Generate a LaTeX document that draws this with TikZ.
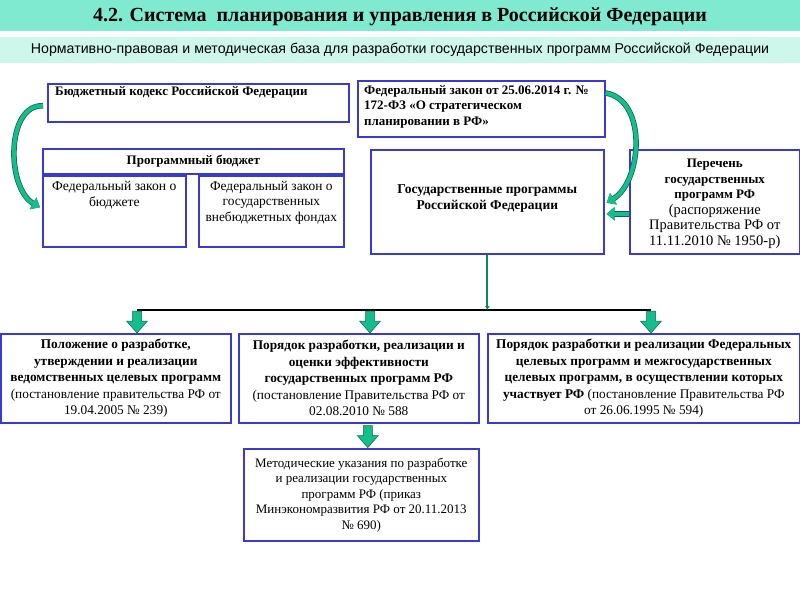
\documentclass[tikz,border=0pt]{standalone}
\usepackage{fontspec}
\setmainfont{Liberation Serif}
\newfontfamily\plainsans{Liberation Sans}
\usetikzlibrary{arrows.meta,calc,positioning}

\definecolor{titleteal}{RGB}{128,234,208}
\definecolor{subteal}{RGB}{206,247,236}
\definecolor{boxblue}{RGB}{58,58,204}
\definecolor{arrowgreen}{RGB}{20,190,140}
\definecolor{arrowdark}{RGB}{25,95,80}

\tikzset{
  docbox/.style={draw=boxblue, line width=1.6pt, anchor=north west, inner sep=0pt},
  boxtext/.style={inner sep=0pt, align=center, font=\fontsize{13.3}{16.5}\selectfont},
  smalltext/.style={inner sep=0pt, align=center, font=\fontsize{13}{15.5}\selectfont},
  bendarrow/.style={draw=arrowgreen, line width=4pt,
    preaction={draw=arrowdark, line width=5.5pt},
    -{Triangle[length=8pt,width=13pt]}},
  pics/blockdown/.style={code={
    \draw[draw=arrowdark, fill=arrowgreen, line width=0.5pt]
      (-4.5,0) -- (4.5,0) -- (4.5,10) -- (10.5,10) -- (0,22) -- (-10.5,10) -- (-4.5,10) -- cycle;}}
}

\begin{document}
\begin{tikzpicture}[x=1pt, y=-1pt]
  \useasboundingbox (0,0) rectangle (800,600);

  % title bands
  \fill[titleteal] (0,0) rectangle (800,31);
  \fill[subteal] (0,37) rectangle (800,63);
  \node[font=\bfseries\fontsize{20}{24}\selectfont] (title) at (400,17)
    {4.2. Система\ \ планирования и управления в Российской Федерации};
  \node[font=\plainsans\fontsize{14.2}{16}\selectfont] (subtitle) at (400,50)
    {Нормативно-правовая и методическая база для разработки государственных программ Российской Федерации};

  % upper row
  \node[docbox, minimum width=301, minimum height=38] (bk) at (47,83) {};
  \node[smalltext, anchor=north west, font=\bfseries\fontsize{13}{15.5}\selectfont] (bktext) at (55,86)
    {Бюджетный кодекс Российской Федерации};

  \node[docbox, minimum width=247, minimum height=56] (fz) at (357,80) {};
  \node[smalltext, anchor=north west, align=left, font=\bfseries\fontsize{13}{15.5}\selectfont] (fztext) at (364,85)
    {Федеральный закон от 25.06.2014 г. №\\172-ФЗ «О стратегическом\\планировании в РФ»};

  \node[docbox, minimum width=301, minimum height=25] (pb) at (42,148) {};
  \node[smalltext, font=\bfseries\fontsize{13}{15.5}\selectfont] (pbtext) at (pb.center)
    {Программный бюджет};

  \node[docbox, minimum width=143, minimum height=71] (fzb) at (42,175) {};
  \node[smalltext, anchor=north, font=\fontsize{13.6}{16}\selectfont] (fzbtext) at ($(fzb.north)+(0,6)$)
    {Федеральный закон о\\бюджете};

  \node[docbox, minimum width=145, minimum height=71] (fzv) at (198,175) {};
  \node[smalltext, anchor=north, font=\fontsize{13.4}{15.5}\selectfont] (fzvtext) at ($(fzv.north)+(0,6)$)
    {Федеральный закон о\\государственных\\внебюджетных фондах};

  \node[docbox, minimum width=233, minimum height=104] (gp) at (370,149) {};
  \node[smalltext, font=\bfseries\fontsize{13.5}{16}\selectfont] (gptext) at ($(gp.center)+(0,-3)$)
    {Государственные программы\\Российской Федерации};

  \node[docbox, minimum width=170, minimum height=104] (per) at (629,149) {};
  \node[smalltext] (pertext) at ($(per.center)+(0,2)$)
    {\textbf{Перечень}\\\textbf{государственных}\\\textbf{программ РФ}\\{\fontsize{14.5}{15.5}\selectfont(распоряжение}\\{\fontsize{14.5}{15.5}\selectfont Правительства РФ от}\\{\fontsize{14.5}{15.5}\selectfont 11.11.2010 № 1950-р)}};

  % lower row
  \node[docbox, minimum width=230, minimum height=89] (bl) at (0,333) {};
  \node[boxtext] (bltext) at (bl.center)
    {\textbf{Положение о разработке,}\\\textbf{утверждении и реализации}\\\textbf{ведомственных целевых программ}\\(постановление правительства РФ от\\19.04.2005 № 239)};

  \node[docbox, minimum width=240, minimum height=89] (bm) at (238,333) {};
  \node[boxtext] (bmtext) at (bm.center)
    {\textbf{Порядок разработки, реализации и}\\\textbf{оценки эффективности}\\\textbf{государственных программ РФ}\\(постановление Правительства РФ от\\02.08.2010 № 588};

  \node[docbox, minimum width=312, minimum height=89] (br) at (487,333) {};
  \node[boxtext] (brtext) at (br.center)
    {\textbf{Порядок разработки и реализации Федеральных}\\\textbf{целевых программ и межгосударственных}\\\textbf{целевых программ, в осуществлении которых}\\\textbf{участвует РФ} (постановление Правительства РФ\\от 26.06.1995 № 594)};

  \node[docbox, minimum width=235, minimum height=92] (mu) at (243,448) {};
  \node[smalltext] (mutext) at (mu.center)
    {Методические указания по разработке\\и реализации государственных\\программ РФ (приказ\\Минэкономразвития РФ от 20.11.2013\\№ 690)};

  % bus line
  \coordinate (busL) at (137,310);
  \coordinate (busR) at (651,310);
  \coordinate (busM) at (gp.south |- busL);
  \draw[line width=1.5pt] (busL) -- (busR);
  \draw[draw=arrowgreen!70!black, line width=2pt, -{Latex[length=4pt,width=5pt]}] (gp.south) -- (busM);

  \pic at ($(busL)+(0,1)$) {blockdown};
  \pic at ($(busL)+(233,1)$) {blockdown};
  \pic at ($(busR)+(0,1)$) {blockdown};
  \pic at ($(bm.south)+(9,2)$) {blockdown};

  % curved arrows
  \draw[bendarrow] ($(bk.west)+(-4,3)$) .. controls (6,104) and (6,188) .. ($(fzb.west)+(-2,-4)$);
  \draw[bendarrow] ($(fz.north east)+(0,13)$) .. controls (648,100) and (642,182) .. ($(gp.east)+(2,1)$);
  \draw[bendarrow, -{Triangle[length=8pt,width=13pt]}] ($(per.west)+(0,12)$) -- ($(gp.east)+(2,12)$);
\end{tikzpicture}
\end{document}
